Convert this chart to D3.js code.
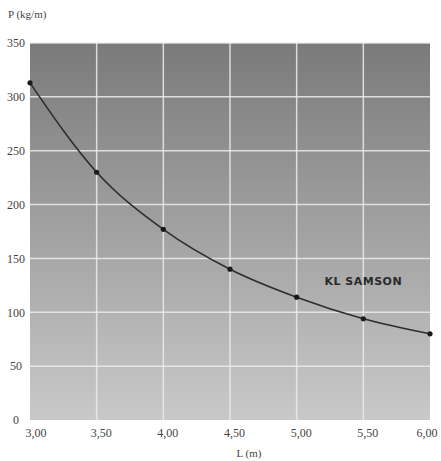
<!DOCTYPE html>
<html>
<head>
<meta charset="utf-8">
<script src="https://cdn.jsdelivr.net/npm/d3@7/dist/d3.min.js"></script>
<style>
  body { margin: 0; background: #fff; }
  svg text { font-family: "Liberation Serif", serif; fill: #444; }
</style>
</head>
<body>
<div id="chart"></div>
<script>
// span L (m) and load P (kg/m)
const lengths = [3.0, 3.5, 4.0, 4.5, 5.0, 5.5, 6.0];
const loads = [313, 230, 177, 140, 114, 94, 80];
const xTicks = [3.0, 3.5, 4.0, 4.5, 5.0, 5.5, 6.0];
const yTicks = [0, 50, 100, 150, 200, 250, 300, 350];
const seriesName = 'KL SAMSON';

const W = 441, H = 461;
const margin = { top: 43, right: 11, bottom: 41, left: 30 },
  width = W - margin.left - margin.right,
  height = H - margin.top - margin.bottom;

const svg = d3.select('#chart').append('svg')
  .attr('width', W).attr('height', H);

const grad = svg.append('defs').append('linearGradient')
  .attr('id', 'bg').attr('x1', 0).attr('y1', 0).attr('x2', 0).attr('y2', 1);
grad.append('stop').attr('offset', '0%').attr('stop-color', '#7a7a7a');
grad.append('stop').attr('offset', '100%').attr('stop-color', '#c9c9c9');

const chart = svg.append('g')
  .attr('transform', 'translate(' + margin.left + ',' + margin.top + ')');

const x = d3.scaleLinear().domain([3, 6]).range([0, width]);
const y = d3.scaleLinear().domain([0, 350]).range([height, 0]);

chart.append('rect')
  .attr('width', width).attr('height', height)
  .attr('fill', 'url(#bg)');

// grid
chart.append('g').selectAll('line')
  .data(yTicks.filter(d => d > 0))
  .enter().append('line')
    .attr('x1', 0).attr('x2', width)
    .attr('y1', d => y(d)).attr('y2', d => y(d))
    .attr('stroke', '#ececec').attr('stroke-opacity', 0.85).attr('stroke-width', 1.5);

chart.append('g').selectAll('line')
  .data(xTicks.filter(d => d > 3 && d < 6))
  .enter().append('line')
    .attr('y1', 0).attr('y2', height)
    .attr('x1', d => x(d)).attr('x2', d => x(d))
    .attr('stroke', '#ececec').attr('stroke-opacity', 0.85).attr('stroke-width', 1.5);

// axes (labels only)
const fmt = d => d3.format('.2f')(d).replace('.', ',');

const xAxis = chart.append('g')
  .attr('transform', 'translate(0,' + height + ')')
  .call(d3.axisBottom(x).tickValues(xTicks).tickFormat(fmt).tickSize(0).tickPadding(8));
xAxis.select('.domain').remove();
xAxis.selectAll('text').style('font-size', '12px').attr('dx', 4);
xAxis.selectAll('text').filter((d, i) => i === 0).attr('text-anchor', 'start').attr('dx', -5);
xAxis.selectAll('text').filter(d => d === 6).attr('text-anchor', 'end').attr('dx', 7);

const yAxis = chart.append('g')
  .call(d3.axisLeft(y).tickValues(yTicks).tickSize(0).tickPadding(0));
yAxis.select('.domain').remove();
yAxis.selectAll('text').style('font-size', '12px')
  .attr('text-anchor', 'middle').attr('x', -14);

// curve
const data = lengths.map((l, i) => ({ l: l, p: loads[i] }));

chart.append('path')
  .datum(data)
  .attr('fill', 'none')
  .attr('stroke', '#2e2e2e')
  .attr('stroke-width', 1.6)
  .attr('d', d3.line().x(d => x(d.l)).y(d => y(d.p)).curve(d3.curveMonotoneX));

chart.selectAll('.pt')
  .data(data)
  .enter().append('circle')
    .attr('class', 'pt')
    .attr('cx', d => x(d.l)).attr('cy', d => y(d.p))
    .attr('r', 2.6).attr('fill', '#1a1a1a');

chart.append('text')
  .attr('x', x(5.5)).attr('y', y(125))
  .attr('text-anchor', 'middle')
  .style('font-family', '"DejaVu Sans", sans-serif')
  .style('font-weight', 'bold').style('font-size', '11px')
  .style('letter-spacing', '0.5px')
  .style('fill', '#2a2a2a')
  .text(seriesName);

// axis titles
svg.append('text')
  .attr('x', 8).attr('y', 18)
  .style('font-size', '11px')
  .text('P (kg/m)');

svg.append('text')
  .attr('x', 249).attr('y', 457)
  .attr('text-anchor', 'middle')
  .style('font-size', '11px')
  .text('L (m)');
</script>
</body>
</html>
